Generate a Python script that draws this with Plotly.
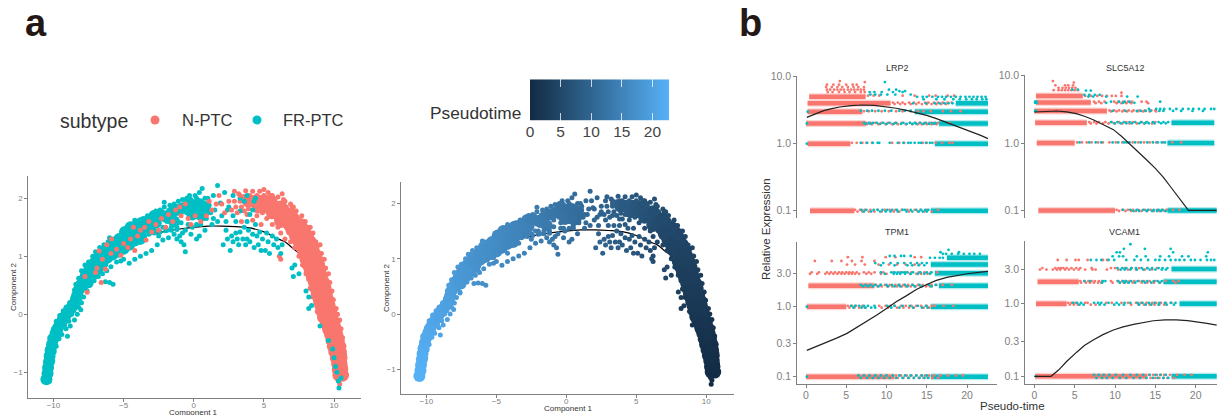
import plotly.graph_objects as go

W, H = 1217, 415
N_COL, FR_COL = "#F8766D", "#00BFC4"
LOW, HIGH = "#132B43", "#56B1F7"
GREY = "#808080"
PT_MAX = 22.7

# ---- panel a: (component 1, component 2, pseudotime)
fr_core = [(-10.5,-1.12,22.6),(-10.42,-1.02,22.5),(-10.38,-0.92,22.3),(-10.32,-0.82,22.2),(-10.27,-0.72,22.0),
 (-10.2,-0.62,21.8),(-10.1,-0.52,21.6),(-10.0,-0.42,21.4),(-9.85,-0.33,21.2),(-9.7,-0.25,21.0),(-9.55,-0.17,20.8),
 (-9.35,-0.1,20.6),(-9.15,-0.03,20.4),(-8.95,0.04,20.2),(-8.75,0.1,20.0),(-8.55,0.17,19.8),(-8.4,0.25,19.6),
 (-8.3,0.33,19.4),(-8.2,0.42,19.3),(-8.05,0.5,19.1),(-7.9,0.58,18.9),(-7.7,0.66,18.7),(-7.5,0.74,18.5),
 (-7.3,0.81,18.3),(-7.1,0.88,18.1),(-6.9,0.94,17.9),(-6.7,1.0,17.7),(-6.45,1.05,17.5),(-6.2,1.1,17.3),
 (-5.95,1.15,17.1),(-5.7,1.18,16.9),(-5.4,1.22,16.7),(-5.1,1.27,16.4),(-4.8,1.32,16.2),(-4.5,1.38,15.9),
 (-4.2,1.42,15.7),(-3.9,1.45,15.4),(-3.6,1.48,15.2),(-3.3,1.52,15.0),(-3.0,1.55,14.7),(-2.7,1.58,14.5),
 (-7.55,0.55,18.6),(-7.2,0.68,18.2),(-6.85,0.78,17.9),(-6.5,0.88,17.5),(-6.15,0.98,17.2),(-5.8,1.03,16.9),
 (-5.4,1.08,16.7),(-5.0,1.13,16.3),(-4.6,1.2,16.0),(-4.2,1.27,15.7),(-3.8,1.3,15.3),(-5.3,1.3,16.6),
 (-4.9,1.42,16.3),(-4.5,1.5,15.9),(-4.1,1.52,15.6),(-3.7,1.58,15.3),(-3.2,1.62,14.9),(-2.8,1.7,14.5),
 (-2.4,1.72,14.2),(-2.0,1.68,13.8),(-1.6,1.75,13.5),(-1.2,1.8,13.1),(-0.8,1.83,12.7),(-0.4,1.88,12.4),
 (0.0,1.88,11.9),(0.4,1.9,11.5),(0.8,1.85,11.1),(-0.1,1.72,12.0),(0.45,1.72,11.5),(-1.4,1.6,13.3)]
fr_edge = [(-10.55,-1.0,22.5),(-10.5,-0.8,22.2),(-10.4,-0.6,21.9),(-10.25,-0.4,21.6),(-10.0,-0.25,21.2),
 (-9.8,-0.12,20.9),(-9.55,-0.02,20.7),(-9.3,0.06,20.5),(-9.1,0.12,20.3),(-8.85,0.2,20.0),(-8.6,0.3,19.8),
 (-8.5,0.42,19.6),(-8.4,0.52,19.5),(-8.2,0.62,19.2),(-8.0,0.75,19.0),(-7.75,0.85,18.7),(-7.5,0.9,18.5),
 (-7.2,1.0,18.2),(-7.0,1.08,18.0),(-6.7,1.15,17.7),(-6.4,1.2,17.4),(-6.1,1.25,17.2),(-6.0,1.32,17.1),
 (-5.7,1.3,16.9),(-5.4,1.35,16.7),(-5.0,1.4,16.3),(-4.7,1.45,16.1),(-4.4,1.55,15.8),(-4.2,1.62,15.6),
 (-3.9,1.6,15.4),(-3.6,1.65,15.1),(-3.3,1.7,14.8),(-3.0,1.72,14.6),(-2.7,1.78,14.3),(-2.4,1.8,14.1),
 (-2.1,1.85,13.7),(-2.1,1.93,13.7),(-1.7,1.88,13.4),(-1.4,1.9,13.2),(-1.1,1.95,12.9),(-0.8,1.98,12.6),
 (-0.5,2.0,12.3),(-0.3,2.05,12.1),(0.1,2.05,11.7),(0.4,2.1,11.4),(0.6,2.17,11.2),(1.0,2.0,10.8),
 (1.7,2.22,10.2),(1.4,2.05,10.5),(2.2,2.1,9.8),(2.8,2.05,9.2),(3.3,2.0,8.8),(3.8,2.05,8.3),(4.4,2.0,7.8),
 (-10.6,-1.15,22.7),(-10.3,-1.15,22.6),(-10.2,-1.0,22.4),(-10.05,-0.8,22.0),(-9.95,-0.65,21.7),(-9.8,-0.55,21.5),
 (-9.6,-0.42,21.3),(-9.4,-0.35,21.0),(-9.0,-0.38,20.5),(-9.1,-0.25,20.5),(-8.8,-0.2,20.2),(-8.5,-0.1,19.9),
 (-8.3,0.0,19.6),(-8.05,0.08,19.3),(-8.0,0.2,19.2),(-7.85,0.3,18.9),(-7.6,0.4,18.7),(-7.4,0.5,18.4),
 (-7.1,0.58,18.1),(-6.8,0.65,17.8),(-6.5,0.7,17.5),(-6.2,0.75,17.3),(-6.0,0.55,17.1),(-5.75,0.52,16.9),
 (-6.3,0.56,17.3),(-5.9,0.82,17.0),(-5.5,0.9,16.8),(-5.2,0.92,16.5),(-5.0,0.95,16.3),(-4.6,0.88,15.9),
 (-4.2,0.95,15.7),(-3.8,1.0,15.3),(-3.4,1.05,15.0),(-3.0,1.1,14.6),(-2.6,1.2,14.3),(-2.2,1.28,13.9),
 (-1.8,1.32,13.5),(-1.4,1.38,13.2),(-1.2,1.3,13.0),(-0.9,1.25,12.7),(-0.6,1.08,12.4),(-0.7,1.2,12.5),
 (-0.2,1.38,12.0),(0.2,1.3,11.6),(0.4,1.35,11.5),(0.8,1.45,11.0),(1.3,1.55,10.6),(1.7,1.6,10.2),
 (2.1,1.2,9.9),(2.4,1.3,9.6),(2.7,1.35,9.3),(3.0,1.4,9.0),(3.2,1.2,8.8),(3.5,1.3,8.5),(3.8,1.3,8.3),
 (4.0,1.25,8.1),(4.2,1.38,7.9),(4.5,1.35,7.6),(4.6,1.2,7.5),(4.7,1.42,7.4),(5.1,1.1,7.0),(5.4,1.05,6.7),
 (5.7,1.2,6.3),(6.0,1.15,6.0),(6.2,1.05,5.8),(7.0,0.8,5.0),(7.2,0.85,4.8),(7.1,0.65,4.7),(7.5,0.7,4.3),
 (8.0,0.4,3.4),(8.2,0.3,3.1),(8.4,0.15,2.8),(8.2,0.1,2.7),(9.0,-0.2,1.6),(9.6,-0.45,1.1),(9.9,-0.6,0.9),
 (10.0,-0.75,0.7),(10.1,-0.9,0.5),(10.2,-1.0,0.4),(10.3,-1.15,0.2),(10.35,-1.27,0.1),(10.5,-1.1,0.2),
 (0.9,1.65,10.9),(1.2,1.75,10.7),(1.5,1.8,10.4),(1.9,1.92,10.0),(2.4,1.8,9.6),(2.8,1.7,9.2),(3.3,1.78,8.8),
 (3.0,1.6,9.0),(3.8,1.6,8.3),(4.2,1.8,8.0),(4.3,1.95,7.9),(3.6,1.95,8.5),
 (-3.5,1.35,15.1),(-3.1,1.4,14.8),(-2.8,1.45,14.5),(-2.5,1.35,14.2),(-2.2,1.5,13.9),(-1.9,1.45,13.6),(-1.6,1.5,13.4),
 (-1.9,1.6,13.6),(-1.2,1.5,13.0),(-0.9,1.58,12.7),(-0.6,1.45,12.4),(-0.4,1.55,12.2),(-0.5,1.75,12.3),(-0.1,1.5,12.0),
 (0.2,1.55,11.6),(0.5,1.55,11.4),(0.7,1.65,11.2),(1.0,1.75,10.8),(1.4,1.65,10.5),(1.1,1.88,10.7),(0.8,2.0,11.0),
 (0.2,2.0,11.7),(-0.2,1.98,12.0),(2.0,1.7,9.9),(2.3,1.6,9.7),(2.5,1.85,9.4),(3.6,1.5,8.5),(3.9,1.45,8.2),(4.4,1.55,7.8),
 (4.0,1.72,8.1),(-8.9,-0.12,20.2),(-9.2,-0.18,20.5),(-8.7,0.0,20.0),(-8.2,0.12,19.5),(-7.75,0.45,18.8),(-8.55,0.3,19.8),
 (-4.8,1.2,16.2),(-4.4,1.27,15.8),(-4.0,1.32,15.5),(-3.6,1.36,15.2),(-3.2,1.38,14.9),(-2.8,1.4,14.5),(-2.4,1.42,14.2),
 (-2.0,1.44,13.8),(-1.6,1.45,13.4),(-1.2,1.46,13.0),(-0.8,1.4,12.7),(-1.0,1.35,12.8),
 (2.3,1.45,9.7),(2.8,1.25,9.2),(3.3,1.42,8.8),(3.7,1.2,8.4),(4.3,1.15,7.8),(4.9,1.3,7.2),(5.3,1.25,6.8),(5.6,1.35,6.4),
 (5.9,1.3,6.1),(2.6,1.1,9.4),(3.1,1.3,8.9),(4.8,1.1,7.3),(6.3,1.2,5.6),(5.2,1.4,6.9)]
n_core = [(10.35,-1.05,0.3),(10.6,-1.05,0.3),(10.3,-0.95,0.4),(10.55,-0.95,0.4),(10.25,-0.85,0.5),(10.5,-0.85,0.5),
 (10.15,-0.75,0.7),(10.5,-0.75,0.7),(10.05,-0.65,0.8),(10.45,-0.65,0.8),(9.95,-0.55,1.0),(10.4,-0.55,1.0),
 (9.85,-0.45,1.1),(10.3,-0.45,1.1),(9.75,-0.35,1.3),(10.2,-0.35,1.3),(9.6,-0.25,1.4),(10.1,-0.25,1.4),
 (9.45,-0.15,1.6),(10.0,-0.15,1.6),(9.25,-0.05,1.8),(9.85,-0.05,1.8),(9.15,0.05,2.0),(9.75,0.05,2.0),
 (9.05,0.15,2.2),(9.65,0.15,2.2),(8.95,0.25,2.3),(9.55,0.25,2.3),(8.8,0.35,2.5),(9.45,0.35,2.5),
 (8.7,0.45,2.7),(9.35,0.45,2.7),(8.6,0.55,2.8),(9.25,0.55,2.8),(8.45,0.65,3.0),(9.1,0.65,3.0),
 (8.3,0.75,3.2),(9.0,0.75,3.2),(8.15,0.85,3.3),(8.9,0.85,3.3),(8.0,0.95,3.5),(8.75,0.95,3.5),
 (7.85,1.05,3.7),(8.6,1.05,3.7),(7.7,1.15,3.9),(8.5,1.15,3.9),(7.5,1.25,4.1),(8.3,1.25,4.1),
 (7.25,1.35,4.3),(8.1,1.35,4.3),(7.0,1.45,4.6),(7.9,1.45,4.6),(6.8,1.55,4.9),(7.6,1.55,4.9),
 (6.2,1.6,5.7),(6.4,1.65,5.4),(7.1,1.65,5.1),(5.6,1.75,6.5),(6.0,1.75,6.0),(6.5,1.75,5.5),(6.9,1.72,5.2),
 (4.6,1.85,7.6),(5.0,1.85,7.2),(5.4,1.85,6.8),(5.8,1.85,6.3),(6.2,1.85,5.9),
 (3.9,1.95,8.2),(4.3,1.95,7.9),(4.7,1.95,7.5),(5.1,1.95,7.1),(5.5,1.95,6.7)]
n_edge = [(10.85,-1.05,0.2),(10.8,-0.9,0.4),(10.75,-0.7,0.6),(10.7,-0.55,0.8),(10.6,-0.4,1.0),(10.5,-0.25,1.2),
 (10.4,-0.1,1.5),(10.25,0.0,1.7),(10.15,0.1,1.9),(9.95,0.25,2.2),(9.85,0.4,2.5),(9.7,0.55,2.8),(9.6,0.7,3.0),
 (9.4,0.8,3.2),(9.3,0.95,3.5),(9.1,1.05,3.7),(9.0,1.2,4.0),(8.7,1.25,4.1),(8.5,1.4,4.4),(8.3,1.5,4.6),
 (7.95,1.6,4.9),(7.7,1.7,5.1),(7.3,1.78,5.4),(7.1,1.85,5.6),(6.9,1.9,5.8),(6.5,1.95,6.1),(6.4,1.98,6.2),
 (6.3,2.08,6.3),(5.6,2.05,6.8),(5.3,2.1,7.0),(5.0,2.15,7.2),(4.7,2.12,7.5),(4.2,2.12,7.9),(3.7,2.13,8.3),
 (3.2,2.08,8.8),(2.9,2.12,9.1),(10.1,-1.0,0.3),(10.0,-0.75,0.6),(9.8,-0.55,0.9),(9.6,-0.4,1.2),(9.4,-0.3,1.4),
 (9.2,-0.15,1.6),(9.0,-0.05,1.7),(8.8,0.05,1.9),(8.7,0.2,2.2),(8.5,0.3,2.4),(8.3,0.45,2.7),(8.2,0.6,2.9),
 (8.0,0.7,3.1),(7.75,0.85,3.4),(7.5,1.0,3.6),(7.2,1.15,3.9),(6.9,1.25,4.2),(6.5,1.3,4.5),(6.2,1.4,4.9),
 (6.0,1.5,5.3),(5.6,1.55,5.9),(5.2,1.65,6.6),(4.8,1.55,7.2),(4.5,1.7,7.6),(4.2,1.62,7.9),(3.8,1.72,8.3),
 (3.6,1.78,8.5),(3.4,1.85,8.7),(10.4,-1.2,0.1),(6.1,1.0,5.9),(6.2,0.95,5.8),
 (3.0,1.85,9.0),(3.3,1.95,8.8),(3.6,2.03,8.5),(4.0,2.05,8.2),(4.5,2.05,7.8),(5.0,2.05,7.2),(5.5,2.05,6.8),(6.0,2.02,6.4),
 (5.9,1.62,5.9),(5.4,1.7,6.5),(4.9,1.75,7.2),(4.4,1.8,7.7),(3.9,1.82,8.2),(6.6,1.5,5.1),(7.3,1.5,4.7),(8.0,1.5,4.5),
 (6.6,1.85,5.9),(7.0,1.85,5.6),(7.4,1.65,5.1)]
n_mix = [(-6.74,1.09,17.8),(-5.86,1.3,17.1),(-6.5,0.95,17.5),(-6.9,0.8,17.9),(-7.0,0.72,18.0),(-6.3,0.78,17.3),
 (-5.9,1.05,17.0),(-5.5,1.12,16.8),(-5.2,1.02,16.5),(-5.0,1.22,16.3),(-4.7,1.15,16.1),(-4.5,1.3,15.9),
 (-4.2,1.1,15.7),(-4.3,1.5,15.7),(-4.0,1.35,15.5),(-3.8,1.45,15.3),(-3.5,1.5,15.1),(-3.4,1.28,15.0),
 (-3.2,1.6,14.8),(-3.0,1.42,14.6),(-2.7,1.55,14.4),(-2.5,1.45,14.2),(-2.3,1.65,14.0),(-2.0,1.5,13.7),
 (-1.8,1.72,13.5),(-1.5,1.6,13.3),(-1.3,1.8,13.1),(-1.0,1.85,12.8),(-0.9,1.7,12.7),(-0.6,1.9,12.4),
 (-0.4,1.65,12.2),(-0.2,1.55,12.0),(0.1,1.7,11.7),(0.5,1.6,11.4),(0.9,1.7,11.0),(1.1,1.95,10.8),(1.3,1.8,10.6),
 (1.6,1.9,10.3),(1.8,2.05,10.1),(2.0,1.9,9.9),(2.2,1.75,9.8),(2.5,1.95,9.5),(2.7,1.8,9.3),(2.9,1.95,9.1),
 (3.1,1.75,8.9),(3.3,2.05,8.8),(3.4,1.6,8.7),(-7.75,0.65,18.7),(-6.2,1.2,17.3),(-7.6,0.38,18.6),(-6.6,0.55,17.6)]
backbone_x = [-10.5,-10,-9,-8,-7,-6,-5,-4,-3,-2,-1,0,1,2,3,4,5,6,6.5,7,7.5,8,8.5,9,9.5,10,10.4]
backbone_y = [-1.05,-0.45,0,0.45,0.82,1.05,1.2,1.32,1.38,1.43,1.47,1.5,1.52,1.52,1.51,1.49,1.42,1.3,1.25,1.15,1.05,0.9,0.65,0.35,-0.02,-0.5,-1.0]
pseudotime_ticks = [0, 5, 10, 15, 20]
pseudotime_scale = [0, 2.27, 4.54, 6.81, 9.08, 11.35, 13.62, 15.89, 18.16, 20.43, 22.7]

# ---- panel b: dense strips (level, from, to) and loose cells (level, [pseudotimes])
lrp2_curve_t = [0.1,1.1,2.2,3.2,4.2,5.6,7.1,8.5,10,11.2,12.5,13.7,15,16.2,17.5,18.7,20,21.7,22.6]
lrp2_curve_v = [2.47,2.78,3.11,3.33,3.53,3.7,3.78,3.72,3.57,3.38,3.14,2.9,2.65,2.37,2.08,1.84,1.62,1.33,1.19]
slc_curve_t = [0,1.4,2.8,4,5.2,6.3,7.3,8.5,9.8,10.8,11.85,12.9,13.9,15,16,17,18.06,19.1,22.6]
slc_curve_v = [2.89,2.96,2.99,2.9,2.73,2.48,2.22,1.88,1.58,1.26,0.966,0.74,0.565,0.42,0.31,0.215,0.145,0.1,0.1]
tpm_curve_t = [0.1,1.3,2.6,3.8,5.1,6.3,7.55,8.8,10,11.2,12.5,13.7,15,16.2,17.5,18.7,20,21.7,22.6]
tpm_curve_v = [0.238,0.27,0.306,0.355,0.416,0.505,0.61,0.76,0.946,1.18,1.44,1.76,2.08,2.38,2.62,2.8,2.96,3.13,3.2]
vcam_curve_t = [0,2.07,3.0,4.0,5.25,6.2,7.3,8.5,9.8,11,12.3,13.5,14.75,16.2,17.6,19,20.1,21.4,22.6]
vcam_curve_v = [0.1,0.1,0.122,0.16,0.215,0.265,0.316,0.375,0.434,0.48,0.52,0.555,0.583,0.598,0.6,0.585,0.565,0.535,0.508]

lrp2_n_bands = [(5,0.4,7.4),(4,0.2,10.5),(3,0.2,7.0),(2,0,7.4),(1,0.2,5.5),(0.1,0.5,6.0)]
lrp2_fr_bands = [(4,18.6,22.6),(3,13.5,22.6),(2,16.5,22.6),(1,16.0,22.6),(0.1,15.5,22.6)]
lrp2_n_cells = [(8.6,[4.2]),(8.3,[7.3]),(7.6,[2.6,3.4,4.1,5.0,5.8,6.3]),(7.0,[2.5,3.2,3.9,4.5,5.2,5.9,6.5,7.2]),
 (6.4,[2.6,3.0,3.5,3.9,4.3,4.7,5.2,5.6,6.0,6.4,6.8,7.2]),(5.9,[2.7,3.3,4.1,4.8,5.4,6.1,6.8,7.3]),
 (5.2,[7.7,8.4,9.1,12.0,13.5,15.3,16.1,17.6,18.4]),(4.1,[10.8,11.4,12.0,12.8,13.4,14.0,14.8,15.2,15.9,16.4,17.0,17.6,18.1]),
 (3.9,[11.0,11.7,12.3,13.0,13.7,14.4,15.0,15.6,16.2,16.8,17.4]),(3.05,[7.2,7.8,8.6,9.4,10.3,11.2,12.0,13.0,13.9,14.6,15.5,17.0,18.0,19.2]),
 (2.05,[7.5,8.0,8.6,9.4,10.2,11.1,11.9,12.9,13.6,14.1,14.7,15.3,15.9,16.4,17.8]),(1.95,[7.6,8.2,9.0,9.9,10.7,11.4,12.4,13.2,13.9,14.4,15.0,15.6,16.2]),
 (1.03,[5.7,6.3,7.0,7.5,8.2,10.7,11.6,12.2,14.5,15.0,16.1,16.9,17.8,18.2]),(0.103,[6.1,6.7,7.3,8.0,8.9,9.8,10.4,11.1,11.9,12.6,13.5,14.2,15.0,16.4]),
 (0.097,[6.4,7.0,7.8,8.5,9.4,10.9,11.6,12.8,13.9,14.7,15.6])]
lrp2_fr_cells = [(8.3,[9.8]),(6.4,[10.3,11.2]),(6.1,[11.6,12.3]),(5.9,[7.9,8.5,9.4,10.8,12.0]),(5.4,[8.0,8.6,9.3,10.1,11.1,13.0]),
 (5.0,[13.8,14.5,15.0,15.7,16.4,16.9,17.4,18.0,18.6,19.2,19.8,20.3,20.8,21.3,21.8,22.3]),(4.6,[14.6,16.2,17.2,18.3,19.1,19.9,20.6,21.2,21.9,22.4]),
 (4.0,[13.3,14.9,16.0,16.6,17.2,17.7,18.2]),(3.1,[6.8,7.6,8.2,9.0,9.8,10.6,11.6,12.3,13.0]),(2.05,[7.2,7.8,8.3,8.8,9.6,10.4,11.2,12.1,12.9,13.5,14.2,14.9,15.6,16.1]),
 (1.97,[7.4,8.0,9.2,10.0,10.9,11.8,12.5,13.2,13.7,14.6,15.3,15.9]),(1.03,[6.8,7.6,8.3,8.9,9.1,10.4,11.4,12.1,12.7,13.0,13.5,14.0,14.3,14.9,15.4,15.7]),
 (0.103,[6.9,7.5,8.4,8.9,9.5,10.1,10.7,11.3,12.0,12.3,13.0,13.7,14.3,14.8,15.2]),(0.097,[7.2,8.1,9.2,9.9,10.5,11.4,12.5,13.2,14.0,14.5,15.0]),(3.0,[0.2]),(1.0,[0.1]),(2.0,[0.1])]
slc_n_bands = [(5,0.2,6.0),(4,0.2,7.0),(3,0,9.0),(2,0.1,6.5),(1,0.3,5.0),(0.1,0.5,10.0)]
slc_fr_bands = [(2,17.0,22.3),(1,16.5,22.3),(0.1,16.5,22.6)]
slc_n_cells = [(8.3,[2.3]),(7.9,[4.9]),(7.2,[2.6,3.8,4.2,4.8]),(6.6,[3.0,3.5,3.9,4.3,4.7,5.1]),(6.1,[2.4,3.0,3.4,3.8,4.2,4.6,5.0,5.4]),
 (5.0,[6.3,7.0,7.8,8.4,9.0,9.6,10.1,10.8]),(5.6,[10.8]),(4.1,[7.4,8.0,8.7,9.9,10.4,11.0,11.6,12.1,13.3,13.9]),(3.9,[7.6,8.3,10.2,10.8,11.4,12.0,14.1]),
 (3.05,[9.3,9.9,10.5,11.1,11.7,12.3,13.0,13.7,14.5,15.0]),(2.95,[9.5,10.2,10.9,11.5,12.1,12.8,13.5,14.3,15.1]),
 (2.05,[6.8,7.4,8.0,8.8,9.6,10.5,11.4,12.2,13.2,14.0,15.0]),(1.95,[7.0,7.7,8.5,9.2,10.0,10.9,11.8,12.7,13.6,14.6]),
 (1.02,[5.3,5.9,6.5,7.1,7.9,8.5,9.3,10.1,10.9,11.6,12.2,12.9,13.6,14.3,15.1,16.0,17.1,18.2]),
 (0.102,[10.2,10.9,11.6,12.2,12.9,13.7,14.4,15.2,15.8,16.4,17.2,18.0]),(0.098,[10.5,11.3,12.0,12.6,13.3,14.0,14.8,15.5,16.1])]
slc_fr_cells = [(6.2,[4.7,5.4]),(6.0,[6.4,7.0]),(5.2,[6.2,6.8,7.5,8.1]),(4.9,[6.7,7.3,8.9,11.5,12.8]),(4.1,[0.1,0.2,9.5,10.5,11.2,11.8,15.6]),(3.95,[0.1,0.3,8.9,11.0,12.4]),
 (3.2,[14.2,15.1,15.6,16.1,16.8,17.6,18.4,19.1,19.7,20.4,21.1,21.9,22.3]),(3.0,[0.2,0.1,9.7,11.3,12.7,13.2,13.8,14.4,15.5,16.0,17.2,18.2,19.6,20.9]),
 (2.05,[9.5,10.3,11.1,11.8,12.5,13.3,13.9,14.7,15.4,16.0,16.6]),(1.96,[9.9,10.7,11.4,12.1,13.0,13.7,14.2,14.9,15.7,16.3]),
 (1.02,[5.6,6.8,7.6,8.3,9.7,10.4,11.1,11.4,11.8,12.5,13.2,14.0,14.7,15.3,15.8,16.2]),(0.102,[11.0,11.9,12.7,13.5,14.1,14.8,15.4,15.9]),(0.098,[12.3,13.0,13.9,14.6,15.2,15.7,16.3])]
tpm_n_bands = [(0.1,0,11.0),(1,0.1,5.0),(2,0.3,8.5)]
tpm_fr_bands = [(0.1,15.5,22.6),(1,15.5,22.6),(2,16.5,22.6),(3,16.0,22.6),(4,15.5,22.6),(5,17.5,22.6)]
tpm_n_cells = [(5.1,[5.2,7.0,9.9,11.1,13.5,14.3]),(4.5,[1.1,3.2,4.4,5.7,6.9,8.5]),(4.0,[5.1,6.1,7.3,9.0,10.3,11.3,12.4,13.5,14.1]),
 (3.1,[0.7,1.6,2.6,3.1,3.6,4.1,4.5,5.0,5.4,5.8,6.3,7.2,7.8,8.5,9.6,10.9,11.7,12.4,13.1,14.0,14.7,15.5,16.3]),
 (2.95,[0.5,1.4,2.4,2.9,3.4,3.9,4.4,4.8,5.3,5.7,6.1,6.6,7.5,8.1,9.3,10.0,12.9,13.7,14.3,15.1]),
 (2.05,[8.7,9.2,9.8,10.4,11.1,11.6,12.1,12.7,13.3,13.9,14.5,15.1,15.6,16.2,17.0,18.1]),(1.95,[8.9,9.4,10.1,10.7,11.3,11.9,12.4,13.0,13.6,14.2,14.9,15.4]),
 (1.03,[5.2,5.7,6.2,7.0,9.1,9.9,10.5,11.0,11.8,12.4,13.1,13.7,14.3,15.0,15.6,16.0,17.1,18.3]),(0.97,[5.4,6.0,6.6,7.3,9.4,10.2,11.3,12.1,12.8,13.4,14.6,15.3]),
 (0.104,[11.2,11.8,12.5,13.1,13.7,14.3,14.8,15.3,15.9,16.7,17.6,18.6,19.5]),(0.096,[11.4,12.1,12.8,13.4,14.0,14.6,15.1,15.7,16.4])]
tpm_fr_cells = [(6.5,[17.7]),(6.0,[16.7,19.0]),(5.7,[17.0,17.4,18.1,18.9,19.6,20.3,20.9,21.6]),(5.3,[10.4,11.0,11.8,12.2,13.0]),(5.0,[15.4,16.0,16.6,17.0]),
 (4.2,[8.6,9.6,10.5,11.4,12.2,13.0,13.8,14.4,15.0]),(3.9,[9.3,11.0,12.6,13.2,14.0,14.7]),(3.1,[9.3,10.6,11.0,11.4,11.9,12.2,12.6,13.3,14.2,15.0,15.6]),(2.95,[9.8,10.9,11.3,11.7,12.3,13.0,13.9,14.7,15.4]),
 (2.05,[6.8,7.4,8.0,8.6,9.3,10.0,10.7,11.5,12.3,13.2,14.1,15.3,16.1]),(1.95,[7.1,7.7,8.3,9.0,10.2,11.0,11.7,12.6,13.5,14.4,15.6]),
 (1.03,[5.6,6.1,6.6,7.2,7.7,8.5,10.1,11.0,12.0,12.9,13.9,14.9]),(0.97,[5.9,6.9,7.4,8.1,8.6,10.6,11.6,13.3,14.4,15.1]),
 (0.104,[6.5,7.2,7.9,8.6,9.3,10.0,10.8,11.6,12.3,13.0,13.7,14.4,15.0]),(0.096,[6.8,7.6,8.3,9.0,9.7,10.4,11.2,12.0,12.7,13.4,14.1,14.7,15.2]),(0.1,[0.1]),(1.0,[0.1])]
vcam_n_bands = [(0.1,0.1,14.0),(1,0.2,4.0),(2,0.4,5.5)]
vcam_fr_bands = [(0.1,17.0,22.6),(1,18.0,22.6),(2,16.0,22.6),(3,17.0,22.6)]
vcam_n_cells = [(4.0,[2.9,4.0,5.1,5.5,6.6,8.5,9.0]),(3.1,[1.0,2.6,3.0,3.3,3.6,4.0,4.6,5.2,5.7,7.1,9.5,10.0,11.2,12.1,13.0,14.0,15.2]),
 (2.95,[0.7,1.5,2.3,2.8,3.2,3.8,4.3,4.9,5.5,6.3,7.2,7.6,9.0,10.4,11.6,12.6,13.7,14.6]),(2.05,[5.7,6.2,6.7,7.1,7.5,8.0,8.4,9.5,10.3,10.9,11.3,11.8,12.4,13.0,13.6,14.3,15.0,16.3,17.2,17.9]),
 (1.95,[5.8,6.4,6.9,7.4,7.9,8.3,9.7,10.6,11.1,11.6,12.2,13.3,14.0,14.8,15.6,17.5]),(1.03,[4.2,4.6,5.1,6.3,6.6,8.9,9.6,10.8,11.6,12.6,13.2,13.9,14.6,15.1,15.7,16.3,17.0]),
 (0.97,[4.4,4.9,5.4,7.0,7.6,12.0,12.9,13.6,14.3,14.9,15.5,16.1]),(0.105,[14.2,14.7,15.2,15.7,16.1,16.8,17.7,18.6,19.5]),(0.095,[14.4,15.0,15.5,16.0,16.5,17.3])]
vcam_fr_cells = [(6.6,[11.9]),(5.7,[11.1,13.7,16.9]),(5.1,[10.6,10.2,17.2,21.5]),(4.5,[9.7,10.5,11.0,12.7,13.8,15.6,16.7,18.3,19.1,21.3]),
 (4.0,[7.0,7.7,8.3,9.2,9.9,11.4,12.4,13.2,14.1,15.0,15.5,16.2,16.9,17.5,18.0,18.6,19.4,19.9,20.6,21.4,21.9,22.3]),
 (3.1,[10.3,10.9,11.4,12.0,12.6,13.3,14.0,14.6,15.4,15.9,16.5]),(2.95,[10.7,11.2,11.9,12.7,13.5,14.3,15.0,15.8,16.3]),
 (2.05,[6.2,6.9,8.5,8.8,10.4,11.0,11.4,12.0,12.8,13.4,14.0,14.8,15.3,15.8]),(1.95,[8.4,10.6,11.2,11.7,12.5,13.7,14.5,15.5]),
 (1.03,[4.8,5.3,5.8,7.4,7.9,8.3,9.2,10.2,11.2,11.9,12.8,13.4,14.2,14.9,15.5,16.2,16.9,17.5]),(0.97,[5.6,6.1,8.1,8.7,9.9,10.5,11.1,13.0,13.8,14.5,15.4,16.4,17.3]),
 (0.105,[7.4,8.0,8.6,9.3,10.1,11.0,11.9,12.7,13.5,14.3,15.0,15.6,16.3]),(0.095,[7.7,8.4,9.0,9.7,10.6,11.4,12.3,13.1,13.9,14.7,15.3,16.0,16.6]),(0.1,[0.2])]

# ---- layout helpers (pixel boxes -> paper fractions)
def dx(a, b): return [a / W, b / W]
def dy(top, bottom): return [1 - bottom / H, 1 - top / H]
def unzip(rows): return [list(c) for c in zip(*rows)]

fig = go.Figure()
layout = {}

def add_axis(n, xdom, ydom, xr, yr, ylog=False, xticks=None, yticks=None, ylabels=None,
             tfont=8, show_x=True, lw=1.2, pull=0):
    xa, ya = f"xaxis{n}", f"yaxis{n}"
    axis = dict(showgrid=False, zeroline=False, showline=True, linecolor=GREY, linewidth=lw, automargin=False,
                ticks="outside", ticklen=3, tickwidth=1, tickcolor=GREY,
                tickfont=dict(family="Liberation Sans", size=tfont, color=GREY))
    layout[xa] = dict(axis, domain=xdom, range=xr, anchor=f"y{n}", tickmode="array",
                      tickvals=xticks or [], visible=show_x, ticklabelstandoff=pull)
    layout[ya] = dict(axis, domain=ydom, range=yr, anchor=f"x{n}", tickmode="array",
                      tickvals=yticks, type="log" if ylog else "linear")
    if ylabels:
        layout[ya]["ticktext"] = ylabels

add_axis(1, dx(28.3, 361), dy(176, 398.3), [-11.79, 11.92], [-1.448, 2.384],
         xticks=[-10,-5,0,5,10], yticks=[-1,0,1,2], pull=-4)
add_axis(2, dx(401.3, 734), dy(182, 394.3), [-11.79, 11.98], [-1.452, 2.387],
         xticks=[-10,-5,0,5,10], yticks=[-1,0,1,2], pull=-4)

def add_points(n, rows, size, **marker):
    x, y, t = unzip(rows)
    fig.add_trace(go.Scatter(x=x, y=y, xaxis=f"x{n}", yaxis=f"y{n}", mode="markers", showlegend=False,
                             hoverinfo="skip", marker=dict(size=size, line_width=0, **marker)))

for n in (1, 2):
    fig.add_trace(go.Scatter(x=backbone_x, y=backbone_y, xaxis=f"x{n}", yaxis=f"y{n}", mode="lines",
                             showlegend=False, line=dict(color="black", width=1.2, shape="spline")))
add_points(1, n_core, 13, color=N_COL)
add_points(1, n_edge, 5, color=N_COL)
add_points(1, fr_core, 12, color=FR_COL)
add_points(1, fr_edge, 5, color=FR_COL)
add_points(1, n_mix, 5, color=N_COL)

ramp = dict(colorscale=[[0, LOW], [1, HIGH]], cmin=0, cmax=PT_MAX)
for rows, size in ((fr_core, 12), (n_core, 13), (fr_edge, 5), (n_edge, 5), (n_mix, 5)):
    add_points(2, rows, size, color=[r[2] for r in rows], **ramp)

# colour-bar strip
layout["xaxis3"] = dict(domain=dx(530, 669), range=[0, PT_MAX], anchor="y3", showgrid=False, zeroline=False, automargin=False,
                        tickmode="array", tickvals=pseudotime_ticks, ticks="inside", ticklen=8, tickwidth=1,
                        tickcolor="rgba(255,255,255,0.75)", mirror="ticks", showline=False,
                        tickfont=dict(family="Liberation Sans", size=15.5, color="#444444"))
layout["yaxis3"] = dict(domain=dy(79.3, 120.7), range=[0, 1], anchor="x3", visible=False, automargin=False)
fig.add_trace(go.Heatmap(x=pseudotime_scale, y=[0, 1], z=[pseudotime_scale, pseudotime_scale], xaxis="x3", yaxis="y3",
                         zmin=0, zmax=PT_MAX, colorscale=[[0, LOW], [1, HIGH]], showscale=False,
                         zsmooth="best", hoverinfo="skip"))

# panel b
genes = [
 (4, dx(797.3, 997.3), dy(76, 218.3), [-1.08, 23.76], [-1.113, 1.01], [0.1,1,10], ["0.1","1.0","10.0"], False,
  lrp2_n_bands, lrp2_fr_bands, lrp2_n_cells, lrp2_fr_cells, lrp2_curve_t, lrp2_curve_v),
 (5, dx(1025.3, 1217), dy(75, 218), [-1.12, 22.64], [-1.113, 1.01], [0.1,1,10], ["0.1","1.0","10.0"], False,
  slc_n_bands, slc_fr_bands, slc_n_cells, slc_fr_cells, slc_curve_t, slc_curve_v),
 (6, dx(797.3, 997.3), dy(241.7, 384.3), [-1.08, 23.76], [-1.109, 0.929], [0.1,0.3,1,3], ["0.1","0.3","1.0","3.0"], True,
  tpm_n_bands, tpm_fr_bands, tpm_n_cells, tpm_fr_cells, tpm_curve_t, tpm_curve_v),
 (7, dx(1025.3, 1217), dy(241, 384.3), [-1.12, 22.64], [-1.11, 0.864], [0.1,0.3,1,3], ["0.1","0.3","1.0","3.0"], True,
  vcam_n_bands, vcam_fr_bands, vcam_n_cells, vcam_fr_cells, vcam_curve_t, vcam_curve_v),
]

def add_band(n, bands, col):
    xs, ys = [], []
    for level, a, b in bands:
        xs += [a, b, None]; ys += [level, level, None]
    fig.add_trace(go.Scatter(x=xs, y=ys, xaxis=f"x{n}", yaxis=f"y{n}", mode="lines", showlegend=False,
                             hoverinfo="skip", opacity=0.3, line=dict(color=col, width=7)))
    fig.add_trace(go.Scatter(x=xs, y=ys, xaxis=f"x{n}", yaxis=f"y{n}", mode="lines", showlegend=False,
                             hoverinfo="skip", line=dict(color=col, width=4.5)))

def add_cells(n, rows, col):
    xs, ys = [], []
    for level, ts in rows:
        xs += ts; ys += [level] * len(ts)
    fig.add_trace(go.Scatter(x=xs, y=ys, xaxis=f"x{n}", yaxis=f"y{n}", mode="markers", showlegend=False,
                             hoverinfo="skip", marker=dict(color=col, size=2.8, line_width=0)))

for g in genes:
    n, xd, yd, xr, yr, yt, yl, bottom, nb, fb, nc, fc, ct, cv = g
    add_axis(n, xd, yd, xr, yr, ylog=True, xticks=[0,5,10,15,20], yticks=yt, ylabels=yl, tfont=10.5, show_x=bottom, pull=-2)
    add_band(n, nb, N_COL)
    add_band(n, fb, FR_COL)
    add_cells(n, nc, N_COL)
    add_cells(n, fc, FR_COL)
    fig.add_trace(go.Scatter(x=ct, y=cv, xaxis=f"x{n}", yaxis=f"y{n}", mode="lines", showlegend=False,
                             line=dict(color="#222222", width=1.2)))

def note(text, x, y, size, color="#333333", bold=False, angle=0, family="Liberation Sans"):
    return dict(text=f"<b>{text}</b>" if bold else text, x=x / W, y=1 - y / H, xref="paper", yref="paper",
                showarrow=False, font=dict(family=family, size=size, color=color), xanchor="center",
                yanchor="middle", textangle=angle)

annotations = [
    note("a", 36, 23.5, 38, "#231815", True), note("b", 750, 22.5, 38, "#231815", True),
    note("subtype", 94, 121, 19.5), note("N-PTC", 207, 120.5, 16.5), note("FR-PTC", 313, 120.5, 16.5),
    note("Pseudotime", 475, 113, 17.3),
    note("Component 1", 193, 412, 8), note("Component 2", 13, 287, 8, angle=-90),
    note("Component 1", 568, 408.5, 8), note("Component 2", 386, 288, 8, angle=-90),
    note("LRP2", 897, 67.5, 9), note("SLC5A12", 1125, 67.5, 9), note("TPM1", 897, 232, 9), note("VCAM1", 1124, 232, 9),
    note("Relative Expression", 766, 229, 11.5, angle=-90), note("Pseudo-time", 1012, 406, 11.5),
]

# legend keys, drawn through an overlay axis in pixels of the legend row
layout["xaxis8"] = dict(domain=[0, 1], range=[0, W], anchor="y8", visible=False, automargin=False)
layout["yaxis8"] = dict(domain=[0, 1], range=[H, 0], anchor="x8", visible=False, automargin=False)
legend_key_x = [155, 257]
legend_key_y = [120, 120]
fig.add_trace(go.Scatter(x=legend_key_x, y=legend_key_y, xaxis="x8", yaxis="y8", mode="markers", showlegend=False,
                         hoverinfo="skip", marker=dict(size=9, color=[N_COL, FR_COL], line_width=0)))

fig.update_layout(width=W, height=H, margin=dict(l=0, r=0, t=0, b=0), paper_bgcolor="white",
                  plot_bgcolor="rgba(0,0,0,0)", annotations=annotations, **layout)
fig.write_html("out.html", config=dict(displayModeBar=False), post_script="document.body.style.margin='0';")
